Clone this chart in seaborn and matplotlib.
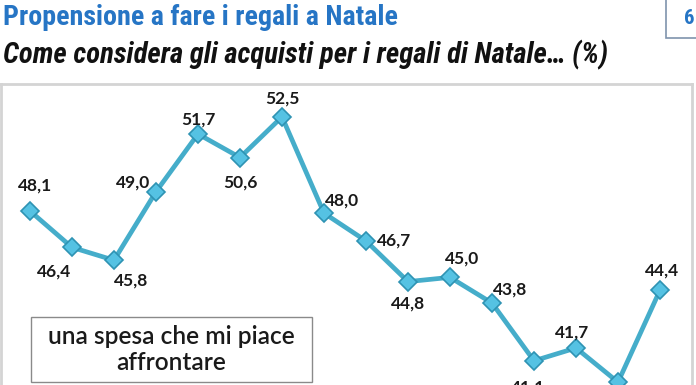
import matplotlib
matplotlib.use("Agg")
import matplotlib.pyplot as plt
import seaborn as sns
import pandas as pd
from matplotlib import font_manager as fm
from matplotlib.patches import Rectangle

# ---------------- data ----------------
periods = list(range(16))
values = [48.1, 46.4, 45.8, 49.0, 51.7, 50.6, 52.5, 48.0, 46.7, 44.8,
          45.0, 43.8, 41.1, 41.7, 40.1, 44.4]
value_labels = ["48,1", "46,4", "45,8", "49,0", "51,7", "50,6", "52,5", "48,0",
                "46,7", "44,8", "45,0", "43,8", "41,1", "41,7", "", "44,4"]
title = "Propensione a fare i regali a Natale"
subtitle = "Come considera gli acquisti per i regali di Natale\u2026 (%)"
series_name = "una spesa che mi piace\naffrontare"
page_number = "6"

# label offsets in pixels (dx, dy), y up
label_offsets = [(5, 25), (-18, -24), (17, -20), (-23, 9), (0, 14), (0, -25),
                 (0, 18), (18, 13), (28, 0), (0, -22), (12, 19), (18, 14),
                 (-6, -27), (-4, 15), (0, -27), (2, 20)]

df = pd.DataFrame({"period": periods, "value": values})

sns.set_style("white")
entries = fm.fontManager.ttflist
names = {f.name for f in entries}
base_sans = "Liberation Sans" if "Liberation Sans" in names else "DejaVu Sans"
label_font = "Lato" if "Lato" in names else base_sans
plt.rcParams["font.family"] = [base_sans, "DejaVu Sans"]

# look for a condensed / narrow sans for the headline
cond_family, cond_stretch = None, "normal"
for cand in ["Liberation Sans Narrow", "Arial Narrow", "Roboto Condensed",
             "DejaVu Sans Condensed", "Open Sans Condensed",
             "Noto Sans Condensed", "Noto Sans SemiCondensed"]:
    if cand in names:
        cond_family = cand
        break
if cond_family is None:
    for f in entries:
        st = str(f.stretch).lower()
        if st not in ("normal", "500") and ("condensed" in st or st.isdigit() and int(st) < 500):
            if "Sans" in f.name or "Roboto" in f.name:
                cond_family, cond_stretch = f.name, f.stretch
                break
head_fam = [cond_family, "DejaVu Sans"] if cond_family else [base_sans, "DejaVu Sans"]

W, H = 696, 385
fig = plt.figure(figsize=(W / 100, H / 100), dpi=100)
fig.patch.set_facecolor("white")

# axes spanning the chart frame (bottom extends below the figure)
top_px, bot_px, left_px, right_px = 84, 420, 1, 692
ax = fig.add_axes([left_px / W, 1 - bot_px / H, (right_px - left_px) / W,
                   (bot_px - top_px) / H])
sns.lineplot(data=df, x="period", y="value", ax=ax, color="#45ADCA",
             linewidth=3.4, marker="D", markersize=9.5,
             markerfacecolor="#55C2E3", markeredgecolor="#2E93B3",
             markeredgewidth=1.2)
ax.set_xlim((left_px - 30) / 42, (right_px - 30) / 42)
ax.set_ylim(48.1 - (bot_px - 211) / 21.4, 48.1 + (211 - top_px) / 21.4)
ax.set_xticks([])
ax.set_yticks([])
ax.set_xlabel("")
ax.set_ylabel("")
for s in ax.spines.values():
    s.set_color("#d4d4d4")
    s.set_linewidth(2)

for x, v, lab, (dx, dy) in zip(periods, values, value_labels, label_offsets):
    if not lab:
        continue
    ax.annotate(lab, (x, v), xytext=(dx, dy), textcoords="offset pixels",
                ha="center", va="center", fontsize=12.5, fontweight="bold",
                family=[label_font, "DejaVu Sans"], color="#1a1a1a")

fig.canvas.draw()
renderer = fig.canvas.get_renderer()


def fit_text(t, target_w):
    w = t.get_window_extent(renderer).width
    t.set_fontsize(t.get_fontsize() * target_w / w)


# title
t1 = fig.text(3 / W, 1 - 25 / H, title, ha="left", va="baseline",
              fontsize=21, fontweight="bold", color="#2675C5", family=head_fam,
              fontstretch=cond_stretch)
fit_text(t1, 395)

t2 = fig.text(3 / W, 1 - 63 / H, subtitle, ha="left", va="baseline",
              fontsize=17, fontweight="bold", style="italic", color="#111111",
              family=head_fam, fontstretch=cond_stretch)
fit_text(t2, 605)

# page number box
fig.patches.append(Rectangle((666 / W, 1 - 38 / H), 40 / W, 40 / H,
                             transform=fig.transFigure, facecolor="white",
                             edgecolor="#7f93ad", linewidth=1.2))
fig.text(689 / W, 1 - 18 / H, page_number, ha="center", va="center",
         fontsize=15, fontweight="bold", color="#2675C5", family=head_fam,
         fontstretch=cond_stretch)

# series name box
fig.patches.append(Rectangle((31 / W, 1 - 382 / H), (312 - 31) / W,
                             (382 - 317) / H, transform=fig.transFigure,
                             facecolor="white", edgecolor="#8a8a8a",
                             linewidth=1.0, zorder=5))
t3 = fig.text(171 / W, 1 - 337 / H, series_name.split("\n")[0], ha="center",
              va="center", fontsize=15, color="#1a1a1a", fontweight="semibold",
              family=[label_font, "DejaVu Sans"], zorder=6)
fit_text(t3, 248)
fig.text(171 / W, 1 - 363 / H, series_name.split("\n")[1], ha="center",
         va="center", fontsize=t3.get_fontsize(), color="#1a1a1a",
         fontweight="semibold", family=[label_font, "DejaVu Sans"], zorder=6)

fig.savefig("out.png", dpi=100, facecolor="white")
